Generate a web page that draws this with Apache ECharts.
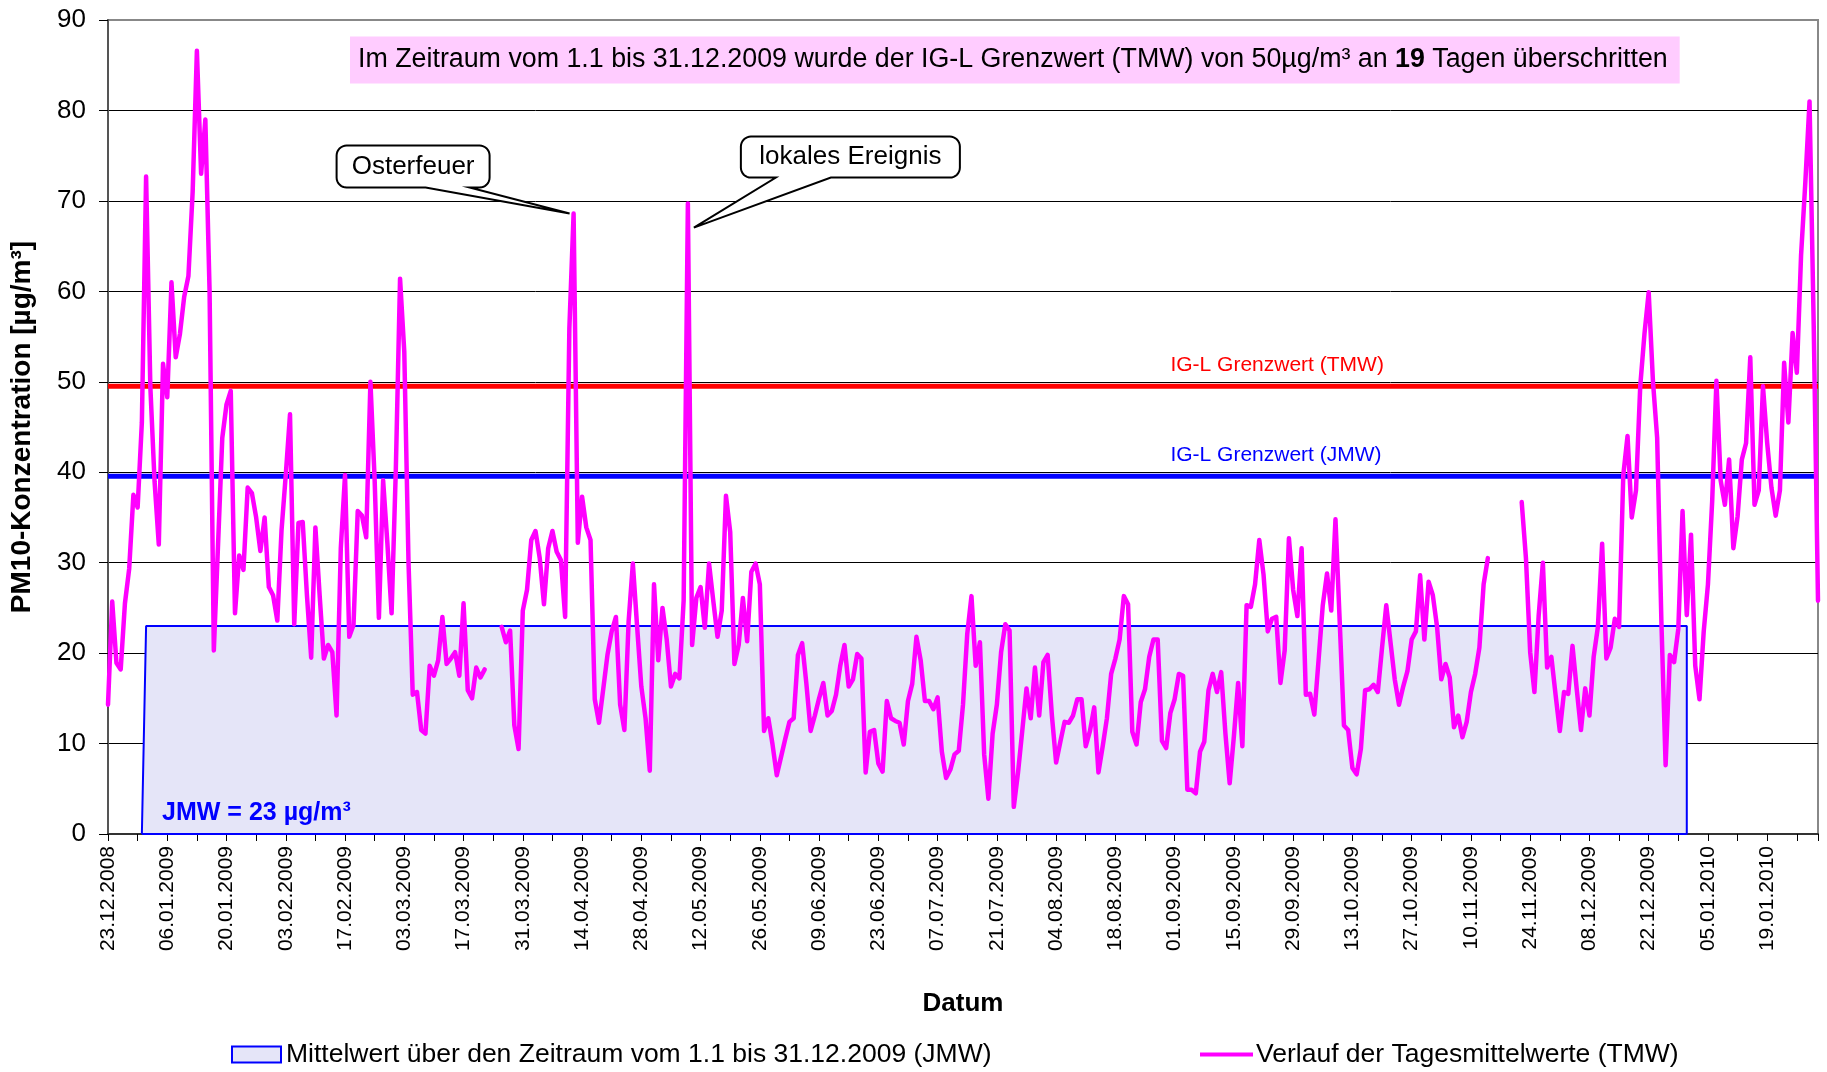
<!DOCTYPE html>
<html><head><meta charset="utf-8">
<script src="https://cdn.jsdelivr.net/npm/echarts@6/dist/echarts.min.js"></script>
<style>html,body{margin:0;padding:0;background:#fff}#c{width:1827px;height:1072px}</style>
</head><body><div id="c"></div>
<script>
// ---------- data ----------
const startDate = '2008-12-23';
const tickLabels = ['23.12.2008','06.01.2009','20.01.2009','03.02.2009','17.02.2009','03.03.2009','17.03.2009','31.03.2009','14.04.2009','28.04.2009','12.05.2009','26.05.2009','09.06.2009','23.06.2009','07.07.2009','21.07.2009','04.08.2009','18.08.2009','01.09.2009','15.09.2009','29.09.2009','13.10.2009','27.10.2009','10.11.2009','24.11.2009','08.12.2009','22.12.2009','05.01.2010','19.01.2010'];
// daily means (TMW) from 23.12.2008 to 31.01.2010, µg/m³ (null = no value)
const tmw = [
14.3,25.7,18.9,18.2,25.5,29.3,37.5,36.1,45.5,72.7,
49.5,39,32,52,48.3,61,52.7,55.3,59.4,61.7,
71,86.6,73,79,60,20.3,32,43.8,47.5,49,
24.4,30.8,29.2,38.3,37.7,35,31.3,35,27.3,26.4,
23.6,33.6,39.7,46.4,23.2,34.4,34.5,26.4,19.5,33.9,
26.4,19.4,20.9,20.1,13.1,31.6,39.7,21.8,23.1,35.7,
35.2,32.8,50,39.1,23.9,39.1,32.2,24.4,40.3,61.4,
53.3,30,15.4,15.7,11.5,11.1,18.6,17.5,19.2,24,
18.8,19.4,20.1,17.5,25.5,15.9,15,18.4,17.3,18.2,
null,null,null,22.9,21.2,22.5,12,9.4,24.7,27,
32.5,33.5,30.5,25.4,31.6,33.5,31.2,30.3,24,55.9,
68.6,32.2,37.3,33.9,32.5,14.9,12.3,16,19.8,22.4,
24,14.3,11.5,23.5,29.9,23,16.3,12.8,7,27.6,
19.2,25,21.5,16.3,17.7,17.2,25.8,69.7,20.9,26.1,
27.3,22.8,29.9,25.8,21.8,24.7,37.4,33.4,18.8,20.9,
26.1,21.3,29,29.9,27.6,11.4,12.8,9.9,6.5,8.5,
10.5,12.4,12.8,19.8,21.1,16.6,11.4,13.1,15,16.7,
13.1,13.6,15.4,18.6,20.9,16.3,17.1,19.9,19.4,6.8,
11.3,11.5,7.8,6.9,14.7,12.8,12.5,12.3,9.9,14.7,
16.6,21.8,19.2,14.7,14.7,13.8,15.1,9.1,6.2,7.1,
8.8,9.2,14.3,22.1,26.3,18.6,21.2,8.8,3.9,11.1,
14.3,20.1,23.2,22.5,3,6.8,11.4,16.1,12.8,18.4,
13.1,19,19.8,13.1,7.9,10.2,12.4,12.3,13.1,14.9,
14.9,9.7,11.4,14,6.8,9.7,12.8,17.7,19.4,21.5,
26.3,25.4,11.3,9.9,14.6,16,19.6,21.5,21.5,10.3,
9.5,13.4,14.9,17.7,17.5,4.9,4.9,4.5,9.1,10.2,
15.9,17.7,15.7,17.9,11.1,5.6,10.8,16.7,9.7,25.3,
25.1,27.6,32.5,28.7,22.4,23.8,24,16.7,20.3,32.7,
27,24.1,31.6,15.4,15.5,13.2,19.2,25.3,28.8,24.7,
34.8,23.5,12,11.5,7.3,6.6,9.4,15.9,16,16.5,
15.7,20.6,25.3,21.2,17.1,14.3,16.3,18,21.5,22.4,
28.6,21.5,27.9,26.4,22.9,17.1,18.8,17.3,11.8,13.1,
10.7,12.4,15.7,17.7,20.6,27.6,30.5,null,null,null,
null,null,null,null,36.7,30.5,20.1,15.7,24.1,30,
18.4,19.6,15.4,11.4,15.7,15.5,20.8,16,11.5,16.1,
13.1,19.6,22.9,32.1,19.4,20.6,23.8,22.9,39.7,44,
35,38,49.5,55.3,59.9,50.1,43.8,23.5,7.6,19.8,
19,22.7,35.7,24.2,33.1,18.6,14.9,22.4,27.6,36.8,
50.1,39.1,36.4,41.4,31.6,35.1,41.4,43.2,52.7,36.4,
38,49.5,43.2,38.3,35.2,38,52.1,45.5,55.4,51,
64,72,81,55.9,25.8
];
// annual mean area (JMW)
const jmwDates  = ['2008-12-31','2009-01-01','2009-12-31','2009-12-31','2008-12-31'];
const jmwValues = [0, 23, 23, 0, 0];
// limit values as drawn
const limitTMW = 49.5;
const limitJMW = 39.55;
const callouts = [
  {text:'Osterfeuer', date:'2009-04-12'},
  {text:'lokales Ereignis', date:'2009-05-09'}
];
const NAME_JMW = 'Mittelwert über den Zeitraum vom 1.1 bis 31.12.2009 (JMW)';
const NAME_TMW = 'Verlauf der Tagesmittelwerte (TMW)';

// ---------- helpers ----------
function dayIndex(s){
  const a = s.split('-').map(Number), b = startDate.split('-').map(Number);
  return Math.round((Date.UTC(a[0],a[1]-1,a[2]) - Date.UTC(b[0],b[1]-1,b[2]))/86400000);
}
const lastDay = tmw.length - 1;
const FONT = "'Liberation Sans', Arial, Helvetica, sans-serif";

const chart = echarts.init(document.getElementById('c'), null, {renderer:'canvas'});
const splitColors = ['#000','#000','#000','#000','#000','#000','#000','#000','#000','#888'];

chart.setOption({
  animation:false,
  backgroundColor:'#fff',
  textStyle:{fontFamily:FONT, color:'#000'},
  title:{
    text:'Im Zeitraum vom 1.1 bis 31.12.2009 wurde der IG-L Grenzwert (TMW) von 50µg/m³ an {b|19} Tagen überschritten',
    left:350, top:37,
    backgroundColor:'#ffccff',
    padding:[10,12,10,8],
    textStyle:{fontFamily:FONT, fontSize:26.8, fontWeight:'normal', color:'#000', lineHeight:26,
      rich:{b:{fontFamily:FONT, fontSize:26.8, fontWeight:'bold', color:'#000', lineHeight:26}}}
  },
  grid:{left:108, right:9, top:20, bottom:238, show:true, borderColor:'#888', borderWidth:2, outerBoundsMode:'none'},
  legend:[
    {data:[{name:NAME_JMW, icon:'rect', itemStyle:{color:'#e5e5f8', borderColor:'#0000ff', borderWidth:2}}],
     left:231, top:1041, padding:0, itemWidth:49, itemHeight:16, selectedMode:false,
     textStyle:{fontFamily:FONT, fontSize:26.5, color:'#000', lineHeight:26}},
    {data:[{name:NAME_TMW, icon:'path://M0,0H53V4H0Z', itemStyle:{color:'#ff00ff'}}],
     left:1200, top:1041, padding:0, itemWidth:53, itemHeight:16, selectedMode:false,
     textStyle:{fontFamily:FONT, fontSize:26.5, color:'#000', lineHeight:26, padding:[0,0,0,-2]}}
  ],
  xAxis:{
    type:'value', min:0, max:lastDay, interval:7,
    axisLine:{show:true, onZero:false, lineStyle:{color:'#333', width:2}},
    axisTick:{show:true, length:7, lineStyle:{color:'#000', width:1}},
    axisLabel:{rotate:90, margin:12, fontSize:21, color:'#000', fontFamily:FONT,
      formatter:function(v){ return (v % 14 === 0 && tickLabels[v/14]) ? tickLabels[v/14] : ''; }},
    splitLine:{show:false},
    name:'Datum', nameLocation:'middle', nameGap:157,
    nameTextStyle:{fontWeight:'bold', fontSize:26, color:'#000', fontFamily:FONT}
  },
  yAxis:{
    type:'value', min:0, max:90, interval:10,
    axisLine:{show:true, lineStyle:{color:'#555', width:2}},
    axisTick:{show:true, length:9, lineStyle:{color:'#000', width:1}},
    axisLabel:{fontSize:26, color:'#000', margin:22, fontFamily:FONT},
    splitLine:{show:true, lineStyle:{color:splitColors, width:1}},
    name:'PM10-Konzentration [µg/m³]', nameLocation:'middle', nameGap:72,
    nameTextStyle:{fontWeight:'bold', fontSize:28, color:'#000', fontFamily:FONT}
  },
  series:[
    {name:NAME_JMW, type:'line', symbol:'none', silent:true, z:2,
     data:jmwDates.map((d,i)=>[dayIndex(d), jmwValues[i]]),
     lineStyle:{color:'#0000ff', width:2}, itemStyle:{color:'#0000ff'},
     areaStyle:{color:'#e5e5f8', opacity:1}},
    {name:'IG-L Grenzwert (TMW)', type:'line', symbol:'none', silent:true, z:3,
     data:[[0,limitTMW],[lastDay,limitTMW]], lineStyle:{color:'#ff0000', width:5}},
    {name:'IG-L Grenzwert (JMW)', type:'line', symbol:'none', silent:true, z:3,
     data:[[0,limitJMW],[lastDay,limitJMW]], lineStyle:{color:'#0000ff', width:5}},
    {name:NAME_TMW, type:'line', symbol:'none', silent:true, z:4, connectNulls:false,
     data:tmw.map((v,i)=>[i, v === null ? '-' : v]),
     lineStyle:{color:'#ff00ff', width:4.5, join:'round', cap:'round'}, itemStyle:{color:'#ff00ff'}}
  ]
});

// ---------- annotations anchored to data ----------
function px(d,v){ return chart.convertToPixel({gridIndex:0}, [d,v]); }
function bubblePoints(x0,y0,x1,y1,r,b1,b2,tx,ty){
  const pts=[]; const N=8;
  function arc(cx,cy,a0,a1){ for(let k=0;k<=N;k++){ const t=a0+(a1-a0)*k/N; pts.push([cx+r*Math.cos(t), cy+r*Math.sin(t)]); } }
  arc(x0+r,y0+r,Math.PI,1.5*Math.PI);
  arc(x1-r,y0+r,1.5*Math.PI,2*Math.PI);
  arc(x1-r,y1-r,0,0.5*Math.PI);
  pts.push([b2,y1],[tx,ty],[b1,y1]);
  arc(x0+r,y1-r,0.5*Math.PI,Math.PI);
  return pts;
}
const g = [];
const labelX = px(251, limitTMW)[0];
const yT = px(0, limitTMW)[1], yJ = px(0, limitJMW)[1];
g.push({type:'text', z:10, style:{text:'IG-L Grenzwert (TMW)', x:labelX, y:yT-11, fill:'#ff0000', font:'21px '+FONT, align:'left', verticalAlign:'bottom'}});
g.push({type:'text', z:10, style:{text:'IG-L Grenzwert (JMW)', x:labelX, y:yJ-11, fill:'#0000ff', font:'21px '+FONT, align:'left', verticalAlign:'bottom'}});
const a0 = px(dayIndex(jmwDates[1]), 0);
g.push({type:'text', z:10, style:{text:'JMW = 23 µg/m³', x:a0[0]+16, y:a0[1]-8, fill:'#0000ff', font:'bold 25px '+FONT, align:'left', verticalAlign:'bottom'}});

const geo = [
  {tip:[-4,0],  box:[-233,-80,-68,-26], base:[-144,-100]},
  {tip:[6,24],  box:[47,266,-91,-50],   base:[82,137]}
];
callouts.forEach((c,i)=>{
  const d = dayIndex(c.date);
  const p = px(d, tmw[d]);
  const tx = p[0]+geo[i].tip[0], ty = p[1]+geo[i].tip[1];
  const b = geo[i].box;
  const x0=tx+b[0], x1=tx+b[1], y0=ty+b[2], y1=ty+b[3];
  g.push({type:'polygon', z:10, shape:{points:bubblePoints(x0,y0,x1,y1,10,tx+geo[i].base[0],tx+geo[i].base[1],tx,ty)},
          style:{fill:'#fff', stroke:'#000', lineWidth:2}});
  g.push({type:'text', z:11, style:{text:c.text, x:(x0+x1)/2, y:(y0+y1)/2, fill:'#000', font:'26px '+FONT, align:'center', verticalAlign:'middle'}});
});
chart.setOption({graphic:g});
</script>
</body></html>
